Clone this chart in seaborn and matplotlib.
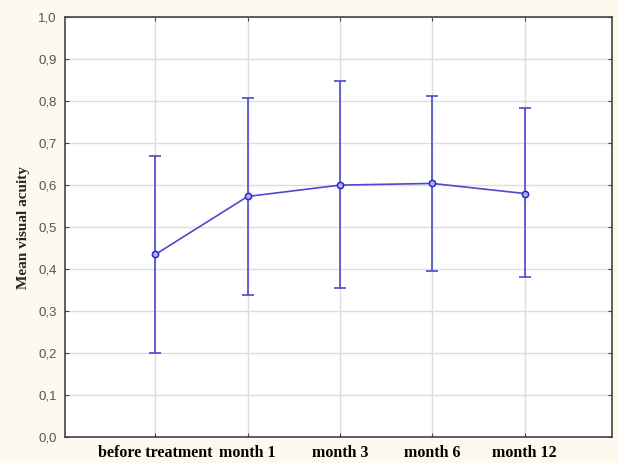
import numpy as np
import pandas as pd
import matplotlib.pyplot as plt
import seaborn as sns

sns.set_style("white")

timepoints = ["before treatment", "month 1", "month 3", "month 6", "month 12"]
mean_acuity = [0.435, 0.573, 0.600, 0.604, 0.580]
upper = [0.670, 0.807, 0.848, 0.812, 0.783]
lower = [0.200, 0.338, 0.355, 0.395, 0.381]

df = pd.DataFrame({"pos": np.arange(len(timepoints)), "mean": mean_acuity,
                   "lo": lower, "hi": upper})

blue = "#4b4bcc"
fig = plt.figure(figsize=(6.19, 4.63), dpi=100, facecolor="#fdf9ee")
ax = fig.add_axes([0.105, 0.056, 0.884, 0.907])
ax.set_facecolor("white")

ax.errorbar(df["pos"], df["mean"],
            yerr=[df["mean"] - df["lo"], df["hi"] - df["mean"]],
            fmt="none", ecolor=blue, elinewidth=1.2, capsize=4, capthick=1.2, zorder=3)
sns.lineplot(data=df, x="pos", y="mean", color=blue, linewidth=1.2, marker="o",
             markersize=4.5, markerfacecolor="#b0b0f4", markeredgecolor="#2828c4",
             markeredgewidth=1.1, ax=ax, zorder=4)

ax.set_xlim(-0.98, 4.95)
ax.set_ylim(0, 1.0)
ax.set_xticks(df["pos"])
ax.set_xticklabels(timepoints, fontfamily="Liberation Serif", fontweight="bold",
                   fontsize=11.5, color="black")
yt = np.arange(0, 1.01, 0.1)
ax.set_yticks(yt)
ax.set_yticklabels([f"{v:.1f}".replace(".", ",") for v in yt],
                   fontfamily="Liberation Sans", fontsize=9.5, color="#555555")
ax.grid(True, color="#dddddd", linewidth=1)
ax.tick_params(axis="both", direction="in", length=3, color="#444444",
               top=True, right=True, bottom=True, left=True, pad=6)
for s in ax.spines.values():
    s.set_color("#444444")
    s.set_linewidth(1.2)
ax.set_xlabel("")
ax.set_ylabel("Mean visual acuity", fontfamily="Liberation Serif",
              fontweight="bold", fontsize=11, labelpad=6)

fig.savefig("out.png", dpi=100, facecolor=fig.get_facecolor())
